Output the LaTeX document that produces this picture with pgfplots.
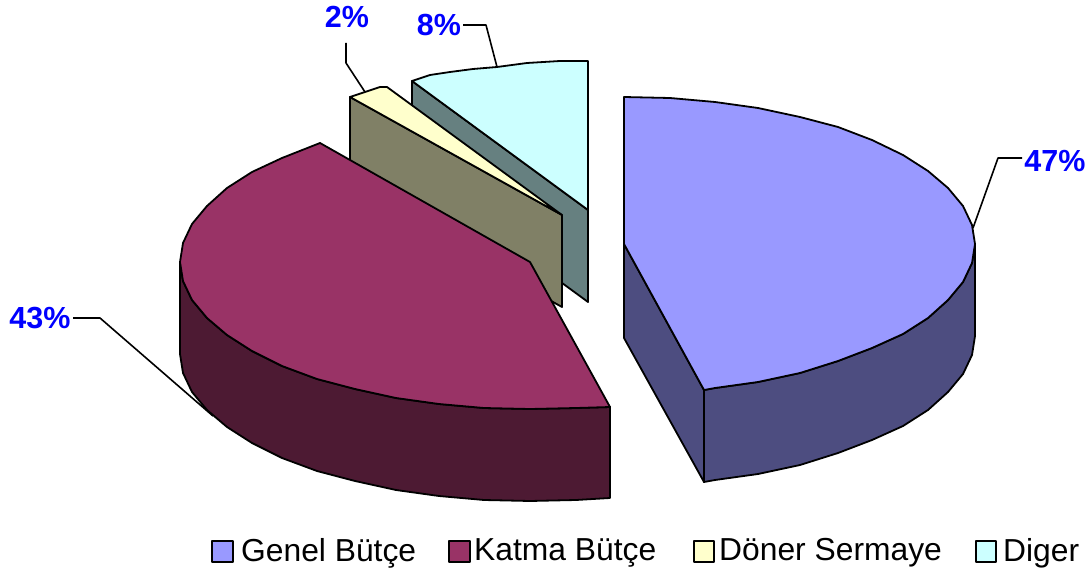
\documentclass[border=0pt]{standalone}
\usepackage{pgfplots}
\pgfplotsset{compat=1.18}
\usepackage{fontspec}
\setmainfont{Liberation Sans}
\definecolor{gtop}{HTML}{9999FF}\definecolor{gside}{HTML}{4D4D80}
\definecolor{ktop}{HTML}{993366}\definecolor{kside}{HTML}{4D1A33}
\definecolor{dtop}{HTML}{FFFFCC}\definecolor{dside}{HTML}{808066}
\definecolor{otop}{HTML}{CCFFFF}\definecolor{oside}{HTML}{668080}
\tikzset{lab/.style={font=\fontsize{30.5}{36}\selectfont\bfseries,text=blue,inner sep=0pt,anchor=center},
 leg/.style={font=\fontsize{31.8}{36}\selectfont,text=black,inner sep=0pt,anchor=west}}
\begin{document}
\begin{tikzpicture}
\begin{axis}[scale only axis,width=1091pt,height=575pt,xmin=0,xmax=1091,ymin=0,ymax=575,y dir=reverse,hide axis,clip=false,
 every axis plot/.append style={draw=black,line width=1.8pt,line join=round,mark=none}]
\addplot[fill=white,draw=none] coordinates {(0,0)(1091,0)(1091,575)(0,575)} -- cycle;
% Diger
\addplot[fill=oside] coordinates {(412,81)(588,210)(588,302)(412,173)} -- cycle;
\addplot[fill=otop] coordinates {(588,210)(412,81)(430,75)(450,72)(473,69)(497,67)(527,63)(560,61)(588,61)} -- cycle;
% Doner
\addplot[fill=dside] coordinates {(350,97)(562,215)(562,307)(350,189)} -- cycle;
\addplot[fill=dtop] coordinates {(562,215)(350,97)(365,92)(380,87)(387,87)} -- cycle;
% Katma
\addplot[fill=kside] coordinates {(180,262)(180,354)(183,373)(192,392)(207,410)(227,427)(252,443)(282,458)(317,471)(355,481)(396,490)(439,496)(484,500)(530,501)(576,500)(610,498)(610,407)(576,408)(530,409)(484,408)(439,404)(396,398)(355,389)(317,379)(282,366)(252,351)(227,335)(207,318)(192,300)(183,281)} -- cycle;
\addplot[fill=ktop] coordinates {(530,262)(320,143)(282,158)(252,172)(227,188)(207,206)(192,224)(183,243)(180,262)(183,281)(192,300)(207,318)(227,335)(252,351)(282,366)(317,379)(355,389)(396,398)(439,404)(484,408)(530,409)(576,408)(610,407)} -- cycle;
% Genel
\addplot[fill=gside] coordinates {(624,244)(704,390)(704,482)(624,338)} -- cycle;
\addplot[fill=gside] coordinates {(975,244)(975,336)(972,355)(963,374)(948,392)(928,410)(903,426)(872,440)(838,453)(800,465)(758,474)(715,480)(704,482)(704,390)(715,388)(758,382)(800,373)(838,361)(872,348)(903,334)(928,318)(948,300)(963,282)(972,263)} -- cycle;
\addplot[fill=gtop] coordinates {(624,244)(624,97)(670,98)(715,102)(758,108)(800,117)(838,127)(872,140)(903,155)(928,171)(948,188)(963,206)(972,225)(975,244)(972,263)(963,282)(948,300)(928,318)(903,334)(872,348)(838,361)(800,373)(758,382)(715,388)(704,390)} -- cycle;
% leaders
\addplot[line width=1.6pt] coordinates {(973,228)(998,158)(1022,158)};
\addplot[line width=1.6pt] coordinates {(73,318)(100,318)(213,416)};
\addplot[line width=1.6pt] coordinates {(346,43)(346,63)(365,92)};
\addplot[line width=1.6pt] coordinates {(463,25)(486,25)(497,67)};
\node[lab] at (axis cs:1055,161) {47\%};
\node[lab] at (axis cs:40,318) {43\%};
\node[lab] at (axis cs:347,17) {2\%};
\node[lab] at (axis cs:439,25) {8\%};
% legend
\addplot[fill=gtop,line width=1.3pt] coordinates {(212,541)(233,541)(233,562)(212,562)} -- cycle;
\addplot[fill=ktop,line width=1.3pt] coordinates {(449,541)(470,541)(470,562)(449,562)} -- cycle;
\addplot[fill=dtop,line width=1.3pt] coordinates {(694,541)(714,541)(714,562)(694,562)} -- cycle;
\addplot[fill=otop,line width=1.3pt] coordinates {(976,541)(996,541)(996,562)(976,562)} -- cycle;
\node[leg] at (axis cs:241,553) {Genel Bütçe};
\node[leg] at (axis cs:474,553) {Katma Bütçe};
\node[leg] at (axis cs:719,553) {Döner Sermaye};
\node[leg] at (axis cs:1003,553) {Diger};
\end{axis}
\end{tikzpicture}
\end{document}
